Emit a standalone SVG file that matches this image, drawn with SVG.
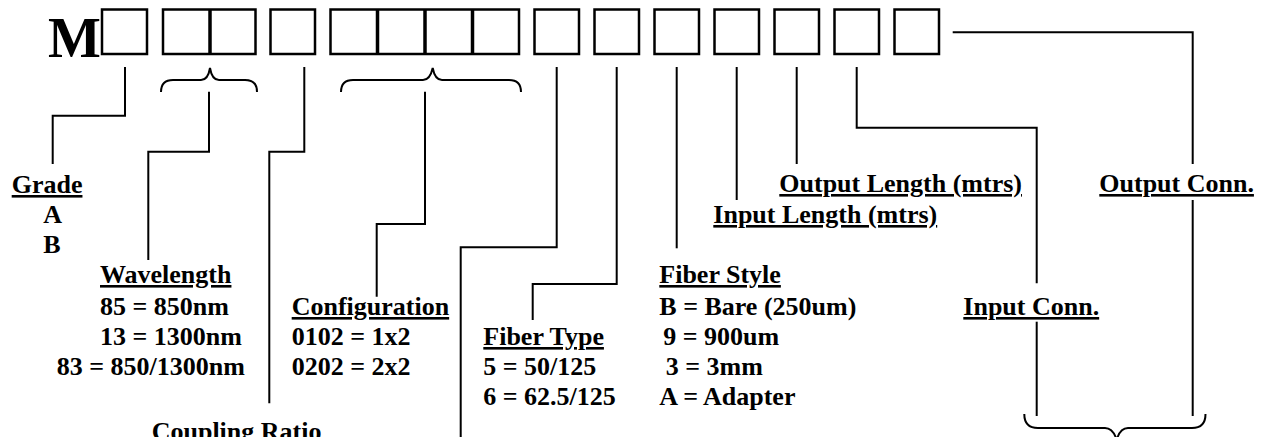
<svg xmlns="http://www.w3.org/2000/svg" width="1266" height="437" viewBox="0 0 1266 437">
<style>
.box{fill:none;stroke:#000;stroke-width:2.5}
.div{stroke:#000;stroke-width:3.5}
.ln{fill:none;stroke:#000;stroke-width:2}
.br{fill:none;stroke:#000;stroke-width:2}
text{font-family:"Liberation Serif","Times New Roman",serif;font-weight:bold;font-size:26px;fill:#000}
.u{text-decoration:underline}
.big{font-size:56px}
</style>
<rect width="1266" height="437" fill="#fff"/>
<g id="code">
<text class="big" x="48" y="57">M</text>
<rect class="box" x="102" y="9.5" width="45" height="44.5"/>
<rect class="box" x="163" y="9.5" width="92.5" height="44.5"/>
<line class="div" x1="210" y1="9.5" x2="210" y2="54"/>
<rect class="box" x="270.5" y="9.5" width="44.5" height="44.5"/>
<rect class="box" x="330.5" y="9.5" width="188.5" height="44.5"/>
<line class="div" x1="377.5" y1="9.5" x2="377.5" y2="54"/>
<line class="div" x1="425" y1="9.5" x2="425" y2="54"/>
<line class="div" x1="472.5" y1="9.5" x2="472.5" y2="54"/>
<rect class="box" x="534.5" y="9.5" width="44.5" height="44.5"/>
<rect class="box" x="594.5" y="9.5" width="44.5" height="44.5"/>
<rect class="box" x="654.5" y="9.5" width="44.5" height="44.5"/>
<rect class="box" x="714.5" y="9.5" width="44.5" height="44.5"/>
<rect class="box" x="774.5" y="9.5" width="44.5" height="44.5"/>
<rect class="box" x="834.5" y="9.5" width="44.5" height="44.5"/>
<rect class="box" x="894.5" y="9.5" width="44.5" height="44.5"/>
</g>
<g id="connectors">
<path class="ln" d="M125,67 V115.7 H52.7 V164"/>
<path class="br" d="M161,92 Q161,80 173,80 H201 Q208,80 210,68 Q212,80 219,80 H245 Q257,80 257,92"/>
<path class="ln" d="M209,91.7 V151.7 H148.3 V260"/>
<path class="ln" d="M304.3,67 V151.7 H269.3 V403.3"/>
<path class="br" d="M341,92 Q341,80 353,80 H423 Q430,80 432.7,68 Q435,80 442,80 H509 Q521,80 521,92"/>
<path class="ln" d="M425,91.7 V224 H376.7 V296.7"/>
<path class="ln" d="M556.7,67 V247.3 H460.7 V437"/>
<path class="ln" d="M616.7,67 V284 H532.7 V320"/>
<path class="ln" d="M676.7,67 V248.3"/>
<path class="ln" d="M736.7,67 V200"/>
<path class="ln" d="M796.7,67 V164"/>
<path class="ln" d="M856.7,67 V127.7 H1036.7 V283.3"/>
<path class="ln" d="M1036.7,321.7 V416"/>
<path class="ln" d="M952.7,32.3 H1192.7 V164"/>
<path class="ln" d="M1192.7,200 V416"/>
<path class="br" d="M1024.3,414 Q1024.3,428 1038,428 H1105 Q1113,428 1116.7,440 Q1120,428 1128,428 H1192 Q1205.5,428 1205.5,414"/>
</g>
<g id="grade">
<text class="u" x="11.7" y="193">Grade</text>
<text x="43.3" y="223">A</text>
<text x="43.3" y="253">B</text>
</g>
<g id="wavelength">
<text class="u" x="100" y="283">Wavelength</text>
<text x="100" y="315">85 = 850nm</text>
<text x="100" y="345">13 = 1300nm</text>
<text x="56.7" y="375">83 = 850/1300nm</text>
</g>
<g id="coupling">
<text x="151.7" y="440">Coupling Ratio</text>
</g>
<g id="configuration">
<text class="u" x="291.7" y="315">Configuration</text>
<text x="291.7" y="345">0102 = 1x2</text>
<text x="291.7" y="375">0202 = 2x2</text>
</g>
<g id="fibertype">
<text class="u" x="483.3" y="345">Fiber Type</text>
<text x="483.3" y="375">5 = 50/125</text>
<text x="483.3" y="405">6 = 62.5/125</text>
</g>
<g id="fiberstyle">
<text class="u" x="659.3" y="283">Fiber Style</text>
<text x="659.3" y="315">B = Bare (250um)</text>
<text x="663.3" y="345">9 = 900um</text>
<text x="665.7" y="375">3 = 3mm</text>
<text x="659.3" y="405">A = Adapter</text>
</g>
<g id="inputlength">
<text class="u" x="713.3" y="223">Input Length (mtrs)</text>
</g>
<g id="outputlength">
<text class="u" x="779.3" y="192">Output Length (mtrs)</text>
</g>
<g id="inputconn">
<text class="u" x="963.3" y="315">Input Conn.</text>
</g>
<g id="outputconn">
<text class="u" x="1099.3" y="192">Output Conn.</text>
</g>
</svg>
